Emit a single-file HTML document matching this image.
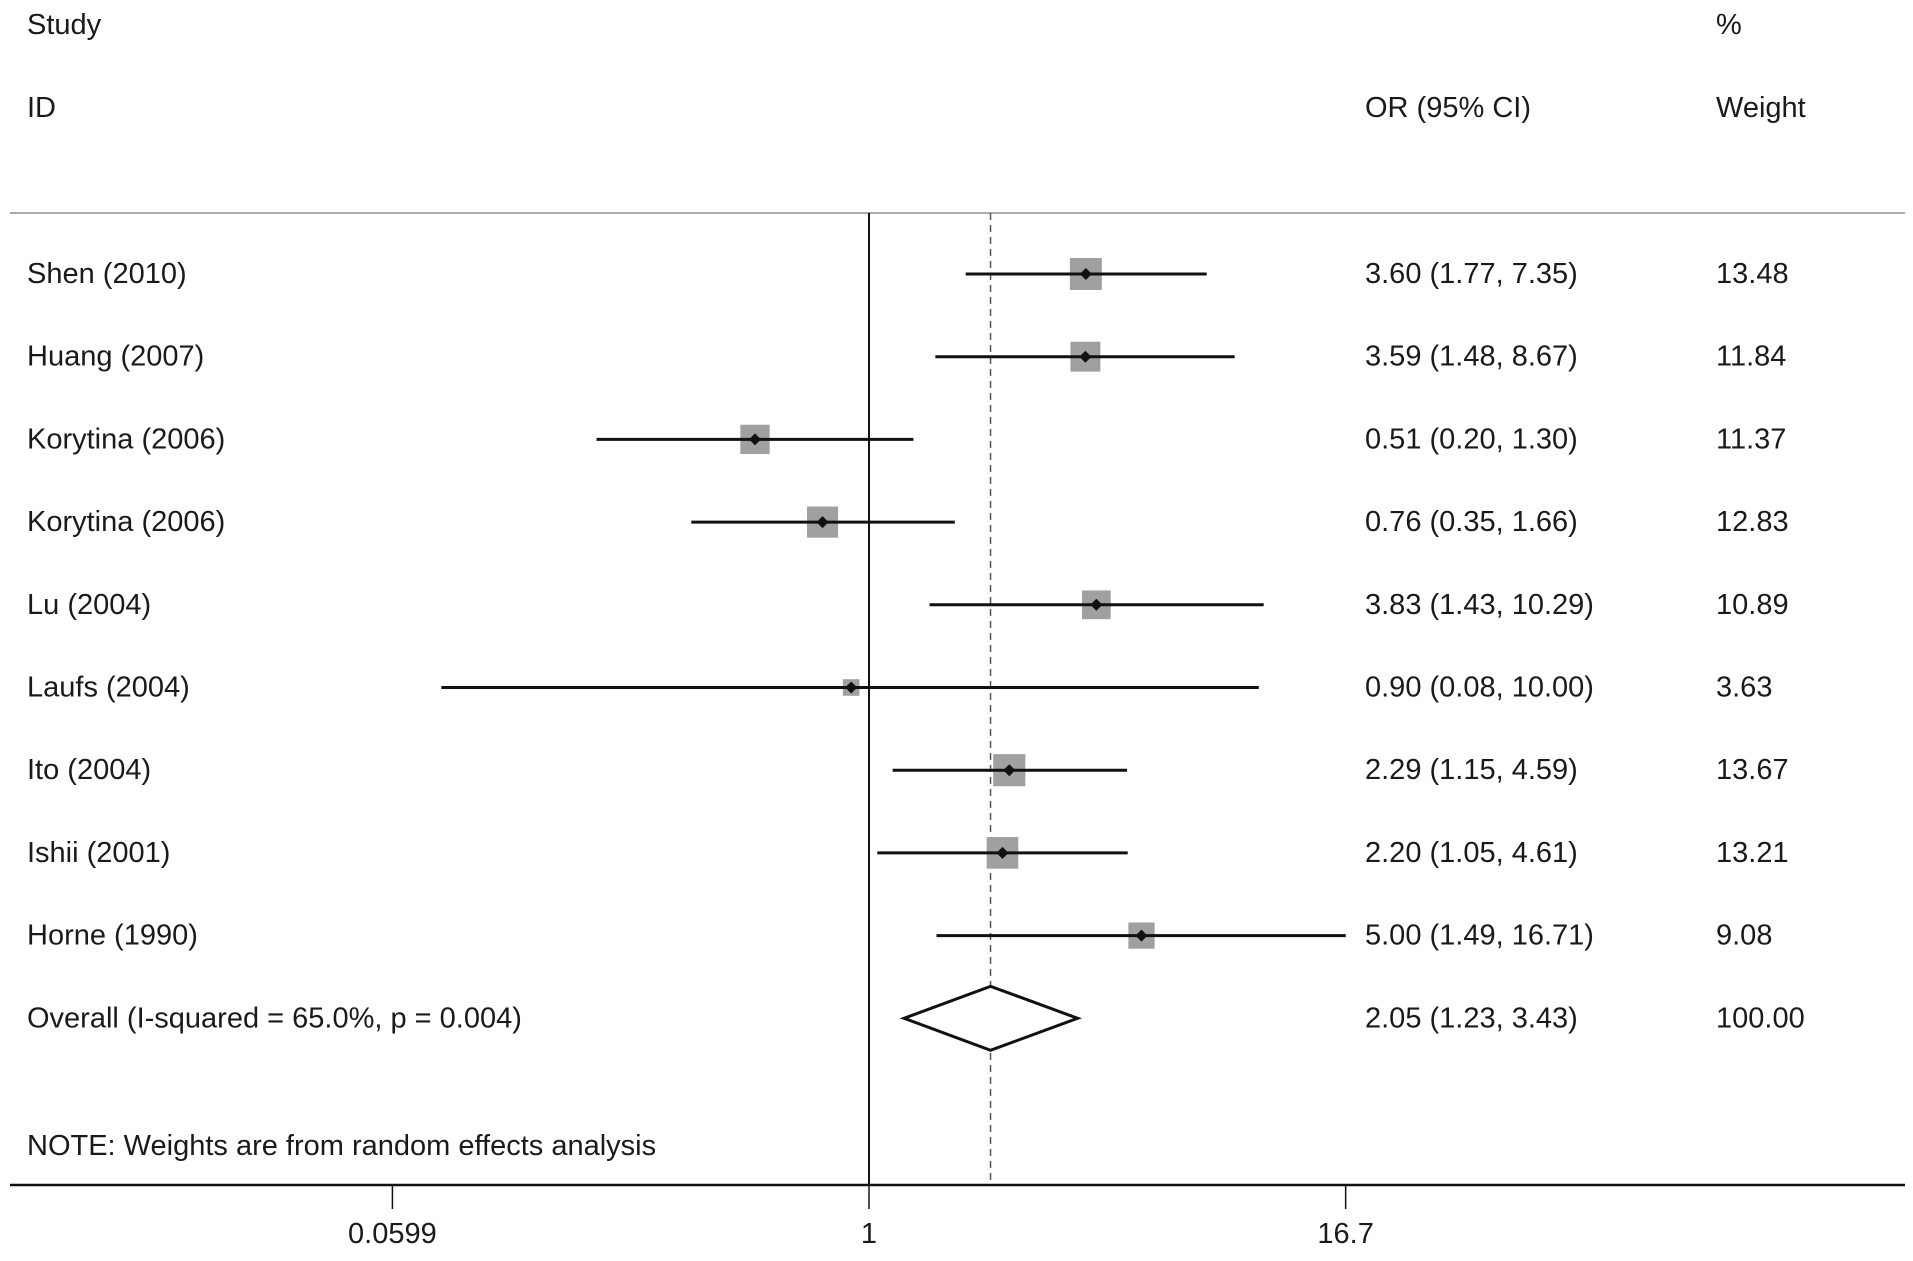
<!DOCTYPE html>
<html><head><meta charset="utf-8"><style>
html,body{margin:0;padding:0;background:#fff;}
svg text{font-family:"Liberation Sans",Arial,sans-serif;font-size:29px;fill:#1a1a1a;}
</style></head><body>
<svg id="chart" width="1913" height="1256" xmlns="http://www.w3.org/2000/svg">
<text x="27" y="34">Study</text>
<text x="27" y="117">ID</text>
<text x="1365" y="117">OR (95% CI)</text>
<text x="1716" y="34">%</text>
<text x="1716" y="117">Weight</text>
<line x1="10" y1="213" x2="1905" y2="213" stroke="#aaa" stroke-width="2"/>
<line x1="10" y1="1185" x2="1905" y2="1185" stroke="#111" stroke-width="2.5"/>
<text x="27" y="1155">NOTE: Weights are from random effects analysis</text>
<g id="marks"></g>
</svg>
<script>
const studies=["Shen (2010)","Huang (2007)","Korytina (2006)","Korytina (2006)","Lu (2004)","Laufs (2004)","Ito (2004)","Ishii (2001)","Horne (1990)"];
const orVals=[3.60,3.59,0.51,0.76,3.83,0.90,2.29,2.20,5.00];
const lower=[1.77,1.48,0.20,0.35,1.43,0.08,1.15,1.05,1.49];
const upper=[7.35,8.67,1.30,1.66,10.29,10.00,4.59,4.61,16.71];
const weights=[13.48,11.84,11.37,12.83,10.89,3.63,13.67,13.21,9.08];
const overall=[2.05,1.23,3.43];
const overallLabel="Overall  (I-squared = 65.0%, p = 0.004)";
const tickVals=[0.0599,1,16.7];
const tickLabels=["0.0599","1","16.7"];
const NS="http://www.w3.org/2000/svg";
const gMarks=document.getElementById('marks');
function X(v){return 869+169.3*Math.log(v);}
function rowY(i){return 274+i*82.7;}
function mk(t,a){const e=document.createElementNS(NS,t);for(const k in a)e.setAttribute(k,a[k]);gMarks.appendChild(e);return e;}
function txt(x,y,s,anchor){const e=mk('text',{x:x,y:y+9});if(anchor)e.setAttribute('text-anchor',anchor);e.textContent=s;return e;}
const plotBottom=1185, plotTop=213;
let e=mk('line',{x1:X(1),y1:plotTop,x2:X(1),y2:plotBottom,stroke:'#111','stroke-width':2});


e=mk('line',{x1:X(overall[0]),y1:plotTop,x2:X(overall[0]),y2:plotBottom,stroke:'#555','stroke-width':1.5,'stroke-dasharray':'7,5'});


studies.forEach((s,i)=>{
  const y=rowY(i);
  const sz=8.7*Math.sqrt(weights[i]);
  let r=mk('rect',{x:X(orVals[i])-sz/2,y:y-sz/2,width:sz,height:sz,fill:'#a0a0a0'});
  
  
  let l=mk('line',{x1:X(lower[i]),y1:y,x2:X(upper[i]),y2:y,stroke:'#111','stroke-width':3});
  
  
  let d=mk('path',{d:`M${X(orVals[i])-6},${y} L${X(orVals[i])},${y-6} L${X(orVals[i])+6},${y} L${X(orVals[i])},${y+6}Z`,fill:'#111'});
  
  
  let t=txt(27,y,s);
  
  
  t=txt(1365,y,`${orVals[i].toFixed(2)} (${lower[i].toFixed(2)}, ${upper[i].toFixed(2)})`);
  
  
  t=txt(1716,y,weights[i].toFixed(2));
  
  
});
const oy=rowY(9);
e=mk('path',{d:`M${X(overall[1])},${oy} L${X(overall[0])},${oy-32} L${X(overall[2])},${oy} L${X(overall[0])},${oy+32}Z`,fill:'#fff',stroke:'#111','stroke-width':3});


e=txt(27,oy,overallLabel);


e=txt(1365,oy,`${overall[0].toFixed(2)} (${overall[1].toFixed(2)}, ${overall[2].toFixed(2)})`);


e=txt(1716,oy,"100.00");


tickVals.forEach((v,i)=>{
  let t=mk('line',{x1:X(v),y1:1185,x2:X(v),y2:1209,stroke:'#111','stroke-width':1.5});
  
  
  let lb=mk('text',{x:X(v),y:1243,'text-anchor':'middle'});
  lb.textContent=tickLabels[i];
  
  
});
</script>
</body></html>
